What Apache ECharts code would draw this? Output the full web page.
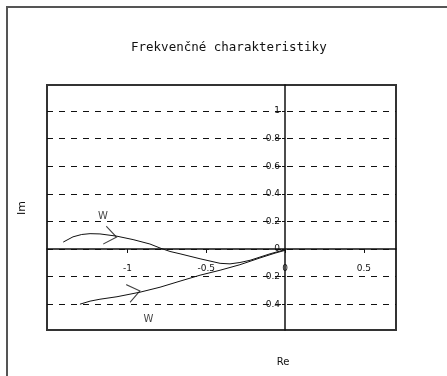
<!DOCTYPE html>
<html>
<head>
<meta charset="utf-8">
<script src="https://cdn.jsdelivr.net/npm/echarts@6/dist/echarts.min.js"></script>
<style>
  html, body { margin: 0; padding: 0; background: #fff; }
  #chart { width: 447px; height: 376px; }
</style>
</head>
<body>
<div id="chart"></div>
<script>
// axis values
const reTicks = [-1, -0.5, 0, 0.5];
const imTicks = [-0.4, -0.2, 0, 0.2, 0.4, 0.6, 0.8, 1];
const reRange = [-1.51, 0.704];
const imRange = [-0.587, 1.188];

// frequency curves (Re, Im)
const curveUpper = [
    [-1.407, 0.050], [-1.345, 0.088], [-1.290, 0.105], [-1.237, 0.111],
    [-1.174, 0.109], [-1.068, 0.093], [-0.964, 0.068], [-0.857, 0.036],
    [-0.793, 0.007], [-0.730, -0.018], [-0.666, -0.035], [-0.539, -0.071],
    [-0.412, -0.104], [-0.349, -0.108], [-0.286, -0.098], [-0.222, -0.082],
    [-0.095, -0.035], [0, -0.005]
];
const curveLower = [
    [-1.301, -0.400], [-1.237, -0.378], [-1.174, -0.364], [-1.066, -0.346],
    [-0.920, -0.313], [-0.793, -0.277], [-0.666, -0.233], [-0.539, -0.190],
    [-0.412, -0.154], [-0.286, -0.114], [-0.159, -0.065], [-0.063, -0.030],
    [0, -0.010]
];
// index of the point where the direction arrow sits
const arrowUpper = 5;
const arrowLower = 4;
// curve names and where they are written
const curveLabels = [
    { name: 'W', value: [-1.155, 0.234] },
    { name: 'W', value: [-0.867, -0.512] }
];

const grid = { left: 47, top: 85, width: 349, height: 245 };
const pxX = grid.width / (reRange[1] - reRange[0]);
const pxY = grid.height / (imRange[1] - imRange[0]);

function arrowAt(curve, i) {
    const a = curve[i - 1], b = curve[i + 1];
    const ang = Math.atan2((b[1] - a[1]) * pxY, (b[0] - a[0]) * pxX) * 180 / Math.PI;
    return { value: curve[i], symbolRotate: ang };
}

const fmt = v => String(+(+v).toFixed(1));
const ink = '#111';

const chart = echarts.init(document.getElementById('chart'));
chart.setOption({
    animation: false,
    backgroundColor: '#fff',
    title: {
        text: 'Frekvenčné charakteristiky',
        left: 131,
        top: 41,
        padding: 0,
        textStyle: {
            fontFamily: 'DejaVu Sans Mono',
            fontSize: 12.5,
            fontWeight: 'normal',
            color: ink
        }
    },
    graphic: [
        {
            type: 'rect',
            shape: { x: 7, y: 7, width: 600, height: 600 },
            style: { fill: 'none', stroke: '#555', lineWidth: 2 },
            silent: true
        },
        {
            type: 'text',
            x: 283, y: 362,
            style: {
                text: 'Re', fill: ink,
                font: '10px "DejaVu Sans"',
                textAlign: 'center', textVerticalAlign: 'middle'
            }
        },
        {
            type: 'text',
            x: 22, y: 208,
            rotation: Math.PI / 2,
            style: {
                text: 'Im', fill: ink,
                font: '11px "DejaVu Sans"',
                textAlign: 'center', textVerticalAlign: 'middle'
            }
        }
    ],
    grid: Object.assign({
        show: true,
        borderColor: '#333',
        borderWidth: 2,
        backgroundColor: 'transparent'
    }, grid),
    xAxis: {
        type: 'value',
        min: reRange[0],
        max: reRange[1],
        // axis (line, ticks, labels) sits on Im = 0
        offset: imRange[0] * pxY,
        axisLine: { onZero: false, lineStyle: { color: ink, width: 1.5 } },
        axisTick: { customValues: reTicks, length: 4, lineStyle: { color: ink } },
        axisLabel: {
            customValues: reTicks,
            margin: 15,
            formatter: fmt,
            fontFamily: 'DejaVu Sans',
            fontSize: 9,
            color: ink
        },
        splitLine: { show: false }
    },
    yAxis: {
        type: 'value',
        min: imRange[0],
        max: imRange[1],
        // axis sits on Re = 0
        offset: reRange[0] * pxX,
        axisLine: { show: true, onZero: false, lineStyle: { color: ink, width: 1.5 } },
        axisTick: { show: true, customValues: imTicks, length: 3, lineStyle: { color: ink } },
        axisLabel: {
            customValues: imTicks,
            margin: 5,
            formatter: fmt,
            fontFamily: 'DejaVu Sans',
            fontSize: 9,
            color: ink
        },
        splitLine: {
            show: true,
            lineStyle: { color: ink, width: 1, type: [6, 6] }
        }
    },
    series: [
        {
            type: 'line',
            data: curveUpper,
            symbol: 'none',
            lineStyle: { color: ink, width: 1 }
        },
        {
            type: 'line',
            data: curveLower,
            symbol: 'none',
            lineStyle: { color: ink, width: 1 }
        },
        {
            type: 'scatter',
            data: [arrowAt(curveUpper, arrowUpper), arrowAt(curveLower, arrowLower)],
            symbol: 'path://M0,0 L12,9 L0,18',
            symbolSize: [12, 18],
            symbolOffset: ['-50%', 0],
            itemStyle: { color: 'none', borderColor: ink, borderWidth: 1 },
            silent: true
        },
        {
            type: 'scatter',
            data: curveLabels,
            symbolSize: 0,
            label: {
                show: true,
                position: 'inside',
                formatter: '{b}',
                fontFamily: 'DejaVu Sans',
                fontSize: 10,
                color: ink
            },
            silent: true
        }
    ]
});
</script>
</body>
</html>
